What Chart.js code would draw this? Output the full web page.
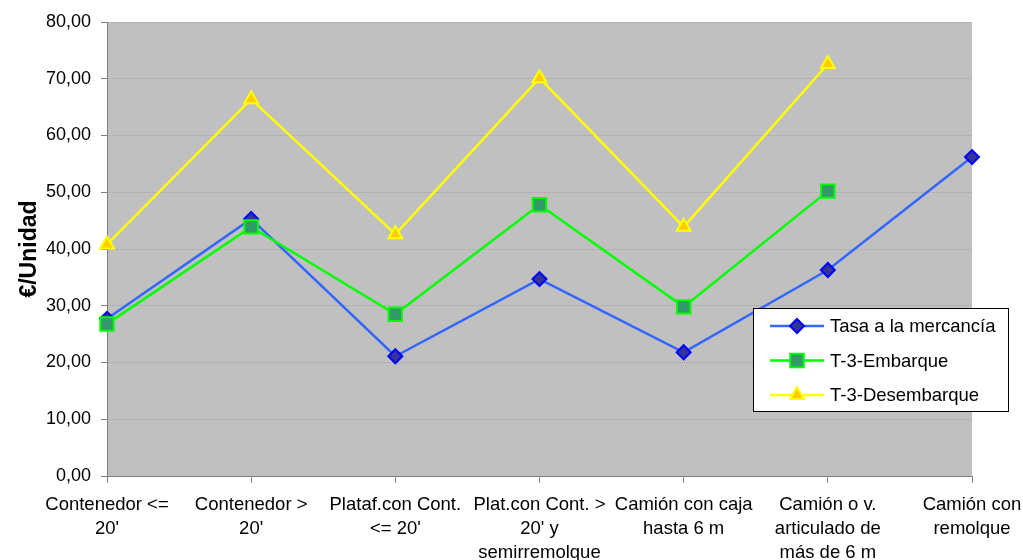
<!DOCTYPE html>
<html>
<head>
<meta charset="utf-8">
<script src="https://cdn.jsdelivr.net/npm/chart.js@4/dist/chart.umd.min.js"></script>
<style>
  html, body { margin: 0; padding: 0; background: #fff; }
  #wrap { width: 1023px; height: 560px; position: relative; }
</style>
</head>
<body>
<div id="wrap"><canvas id="c" width="1023" height="560"></canvas></div>
<script>
// Vehicle / unit categories
const categories = [
  ["Contenedor <=", "20'"],
  ["Contenedor >", "20'"],
  ["Plataf.con Cont.", "<= 20'"],
  ["Plat.con Cont. >", "20' y", "semirremolque"],
  ["Camión con caja", "hasta 6 m"],
  ["Camión o v.", "articulado de", "más de 6 m"],
  ["Camión con", "remolque"]
];

// Rates per unit (€/Unidad)
const tasaMercancia = [27.7, 45.3, 21.1, 34.7, 21.8, 36.3, 56.2];
const t3Embarque    = [26.8, 43.9, 28.5, 47.8, 29.8, 50.2, null];
const t3Desembarque = [40.8, 66.4, 42.6, 70.1, 43.9, 72.6, null];

const seriesNames = ["Tasa a la mercancía", "T-3-Embarque", "T-3-Desembarque"];
const yTicks = [0, 10, 20, 30, 40, 50, 60, 70, 80];

const fmt = v => v.toFixed(2).replace('.', ',');
const FONT = '"Liberation Sans", Arial, sans-serif';

// Grey plot background
const plotBg = {
  id: 'plotBg',
  beforeDraw(chart) {
    const { ctx, chartArea: a } = chart;
    ctx.save();
    ctx.fillStyle = '#C0C0C0';
    ctx.fillRect(a.left, a.top, a.right - a.left, a.bottom - a.top);
    ctx.restore();
  }
};

// Boxed legend with line + marker samples
const boxLegend = {
  id: 'boxLegend',
  afterDraw(chart) {
    const ctx = chart.ctx;
    const x = 753, y = 308, w = 255, h = 103;
    ctx.save();
    ctx.fillStyle = '#fff';
    ctx.fillRect(x, y, w, h);
    ctx.strokeStyle = '#000';
    ctx.lineWidth = 1;
    ctx.strokeRect(x + 0.5, y + 0.5, w, h);
    chart.data.datasets.forEach((ds, i) => {
      const cy = y + 18 + i * 34.5;
      ctx.strokeStyle = ds.borderColor;
      ctx.lineWidth = ds.borderWidth;
      ctx.beginPath();
      ctx.moveTo(x + 17, cy);
      ctx.lineTo(x + 71, cy);
      ctx.stroke();
      ctx.fillStyle = ds.pointBackgroundColor;
      ctx.strokeStyle = ds.pointBorderColor;
      ctx.lineWidth = ds.pointBorderWidth;
      Chart.helpers.drawPoint(ctx, {
        pointStyle: ds.pointStyle,
        rotation: 0,
        radius: ds.pointRadius,
        borderWidth: ds.pointBorderWidth
      }, x + 44, cy);
      ctx.fillStyle = '#000';
      ctx.font = '18.5px ' + FONT;
      ctx.textBaseline = 'middle';
      ctx.textAlign = 'left';
      ctx.fillText(ds.label, x + 77, cy + 1);
    });
    ctx.restore();
  }
};

const ctx = document.getElementById('c').getContext('2d');
new Chart(ctx, {
  type: 'line',
  data: {
    labels: categories,
    datasets: [
      {
        label: seriesNames[0], data: tasaMercancia,
        borderColor: '#3366FF', borderWidth: 2.5,
        pointStyle: 'rectRot', pointRadius: 7,
        pointBackgroundColor: '#333399', pointBorderColor: '#0000FF', pointBorderWidth: 2,
        tension: 0, order: 3
      },
      {
        label: seriesNames[1], data: t3Embarque,
        borderColor: '#00FF00', borderWidth: 2.5,
        pointStyle: 'rect', pointRadius: 9.5,
        pointBackgroundColor: '#339966', pointBorderColor: '#00FF00', pointBorderWidth: 2,
        tension: 0, order: 2
      },
      {
        label: seriesNames[2], data: t3Desembarque,
        borderColor: '#FFFF00', borderWidth: 2.5,
        pointStyle: 'triangle', pointRadius: 8,
        pointBackgroundColor: '#FFCC00', pointBorderColor: '#FFFF00', pointBorderWidth: 2,
        tension: 0, order: 1
      }
    ]
  },
  options: {
    responsive: false,
    animation: false,
    layout: { padding: { top: 22, right: 51, left: 0, bottom: 0 } },
    plugins: { legend: { display: false }, tooltip: { enabled: false } },
    scales: {
      x: {
        offset: false,
        afterFit(s) { s.height = 84; s.paddingLeft = 0; s.paddingRight = 0; },
        grid: { drawOnChartArea: false, drawTicks: true, tickLength: 7, tickColor: '#808080' },
        border: { color: '#808080', width: 1 },
        ticks: {
          color: '#000', autoSkip: false, maxRotation: 0, padding: 10,
          font: { family: FONT, size: 18.5, lineHeight: 1.3 }
        }
      },
      y: {
        min: 0, max: 80,
        afterFit(s) { s.width = 107; s.paddingTop = 0; s.paddingBottom = 0; },
        afterBuildTicks(s) { s.ticks = yTicks.map(v => ({ value: v })); },
        grid: { color: '#A4A4A4', lineWidth: 1, tickLength: 6, tickColor: '#808080' },
        border: { color: '#808080', width: 1, dash: [1, 1] },
        title: {
          display: true, text: '€/Unidad', color: '#000', padding: { top: 16, bottom: 0 },
          font: { family: FONT, size: 23, weight: 'bold' }
        },
        ticks: {
          color: '#000', padding: 10,
          font: { family: FONT, size: 18 },
          callback: v => fmt(v)
        }
      }
    }
  },
  plugins: [plotBg, boxLegend]
});
</script>
</body>
</html>
